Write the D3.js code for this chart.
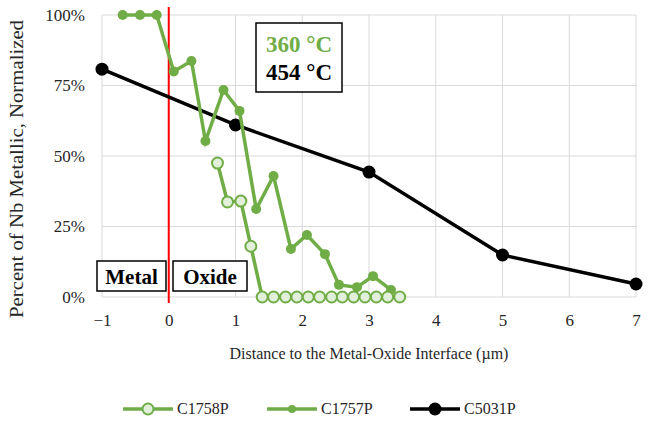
<!DOCTYPE html>
<html>
<head>
<meta charset="utf-8">
<script src="https://cdn.jsdelivr.net/npm/d3@7"></script>
<style>
  body { margin: 0; background: #fff; }
  svg text { font-family: "Liberation Serif", "Times New Roman", serif !important; }
</style>
</head>
<body>
<div id="chart"></div>
<script>
const WIDTH = 650;
const HEIGHT = 428;
const FONT = "Liberation Serif";
const GREEN = "#70ad47";
const LIGHT_GREEN = "#e2efda";
const BLACK = "#000";
const GRID = "#d9d9d9";
const TEXT = "#262626";

// C1758P (hollow markers)
const c1758x = [0.73, 0.88, 1.08, 1.23, 1.40, 1.57, 1.75, 1.92, 2.09, 2.26, 2.44, 2.60, 2.77, 2.94, 3.11, 3.28, 3.46];
const c1758y = [0.475, 0.337, 0.34, 0.18, 0, 0, 0, 0, 0, 0, 0, 0, 0, 0, 0, 0, 0];
// C1757P (small filled markers)
const c1757x = [-0.69, -0.43, -0.18, 0.075, 0.34, 0.55, 0.82, 1.06, 1.31, 1.57, 1.83, 2.07, 2.34, 2.55, 2.82, 3.06, 3.33];
const c1757y = [1.0, 1.0, 1.0, 0.80, 0.837, 0.553, 0.734, 0.66, 0.312, 0.429, 0.17, 0.22, 0.152, 0.043, 0.035, 0.074, 0.025];
// C5031P (large black markers)
const c5031x = [-1, 1, 3, 5, 7];
const c5031y = [0.808, 0.61, 0.443, 0.149, 0.046];

const xTicks = [-1, 0, 1, 2, 3, 4, 5, 6, 7];
const yTicks = [0, 0.25, 0.5, 0.75, 1];

const svg = d3.select("#chart").append("svg")
    .attr("width", WIDTH)
    .attr("height", HEIGHT)
    .attr("font-family", FONT);

const x = d3.scaleLinear().domain([-1, 7]).range([102, 636]);
const y = d3.scaleLinear().domain([0, 1]).range([297, 15]);

// Gridlines
svg.append("g").selectAll("line.h")
    .data(yTicks).enter().append("line")
    .attr("x1", x(-1)).attr("x2", x(7))
    .attr("y1", d => y(d)).attr("y2", d => y(d))
    .attr("stroke", GRID).attr("stroke-width", 1);
svg.append("g").selectAll("line.v")
    .data(xTicks).enter().append("line")
    .attr("x1", d => x(d)).attr("x2", d => x(d))
    .attr("y1", y(1)).attr("y2", y(0))
    .attr("stroke", GRID).attr("stroke-width", 1);

// Axes (labels only)
const xAxis = svg.append("g")
    .attr("transform", "translate(0," + y(0) + ")")
    .call(d3.axisBottom(x).tickValues(xTicks).tickSize(0).tickPadding(17).tickFormat(d3.format("d")));
xAxis.attr("font-family", FONT).attr("font-size", 17);
xAxis.select(".domain").remove();
xAxis.selectAll("text").attr("fill", TEXT);

const yAxis = svg.append("g")
    .attr("transform", "translate(" + x(-1) + ",0)")
    .call(d3.axisLeft(y).tickValues(yTicks).tickSize(0).tickPadding(17).tickFormat(d3.format(".0%")));
yAxis.attr("font-family", FONT).attr("font-size", 17);
yAxis.select(".domain").remove();
yAxis.selectAll("text").attr("fill", TEXT);

// Axis titles
svg.append("text")
    .attr("x", x(3)).attr("y", 359)
    .attr("text-anchor", "middle")
    .attr("font-size", 16).attr("fill", TEXT)
    .text("Distance to the Metal-Oxide Interface (µm)");
svg.append("text")
    .attr("transform", "translate(23,169) rotate(-90)")
    .attr("text-anchor", "middle")
    .attr("font-size", 18).attr("fill", TEXT)
    .attr("textLength", 298).attr("lengthAdjust", "spacingAndGlyphs")
    .text("Percent of Nb Metallic, Normalized");

// Interface line
svg.append("line")
    .attr("x1", x(0)).attr("x2", x(0))
    .attr("y1", 7).attr("y2", 303)
    .attr("stroke", "#ff0000").attr("stroke-width", 2);

// Metal / Oxide labels
function labelBox(x0, x1, label) {
    svg.append("rect")
        .attr("x", x0).attr("y", 261)
        .attr("width", x1 - x0).attr("height", 30)
        .attr("fill", "#fff").attr("stroke", BLACK).attr("stroke-width", 1.5);
    svg.append("text")
        .attr("x", (x0 + x1) / 2).attr("y", 284)
        .attr("text-anchor", "middle")
        .attr("font-size", 21).attr("font-weight", "bold")
        .text(label);
}
labelBox(97, 166, "Metal");
labelBox(173, 247, "Oxide");

const line = d3.line().x(d => x(d[0])).y(d => y(d[1]));

// C5031P
const d5031 = c5031x.map((v, i) => [v, c5031y[i]]);
svg.append("path").datum(d5031)
    .attr("d", line).attr("fill", "none")
    .attr("stroke", BLACK).attr("stroke-width", 3.5);
svg.append("g").selectAll("circle")
    .data(d5031).enter().append("circle")
    .attr("cx", d => x(d[0])).attr("cy", d => y(d[1]))
    .attr("r", 6.5).attr("fill", BLACK);

// C1757P
const d1757 = c1757x.map((v, i) => [v, c1757y[i]]);
svg.append("path").datum(d1757)
    .attr("d", line).attr("fill", "none")
    .attr("stroke", GREEN).attr("stroke-width", 3.5);
svg.append("g").selectAll("circle")
    .data(d1757).enter().append("circle")
    .attr("cx", d => x(d[0])).attr("cy", d => y(d[1]))
    .attr("r", 5).attr("fill", GREEN);

// C1758P
const d1758 = c1758x.map((v, i) => [v, c1758y[i]]);
svg.append("path").datum(d1758)
    .attr("d", line).attr("fill", "none")
    .attr("stroke", GREEN).attr("stroke-width", 3.5);
svg.append("g").selectAll("circle")
    .data(d1758).enter().append("circle")
    .attr("cx", d => x(d[0])).attr("cy", d => y(d[1]))
    .attr("r", 5.5).attr("fill", LIGHT_GREEN)
    .attr("stroke", GREEN).attr("stroke-width", 2);

// Temperature box
svg.append("rect")
    .attr("x", 256).attr("y", 23).attr("width", 86).attr("height", 69)
    .attr("fill", "#fff").attr("stroke", BLACK).attr("stroke-width", 1.5);
svg.append("text")
    .attr("x", 299).attr("y", 52).attr("text-anchor", "middle")
    .attr("font-size", 23).attr("font-weight", "bold").attr("fill", GREEN)
    .text("360 °C");
svg.append("text")
    .attr("x", 299).attr("y", 80).attr("text-anchor", "middle")
    .attr("font-size", 23).attr("font-weight", "bold").attr("fill", BLACK)
    .text("454 °C");

// Legend
const legend = [
    {name: "C1758P", color: GREEN, x: 123, r: 5.5, fill: LIGHT_GREEN, stroke: GREEN},
    {name: "C1757P", color: GREEN, x: 267, r: 4, fill: GREEN, stroke: "none"},
    {name: "C5031P", color: BLACK, x: 410, r: 6.5, fill: BLACK, stroke: "none"}
];
const lg = svg.append("g").selectAll("g")
    .data(legend).enter().append("g")
    .attr("transform", d => "translate(" + d.x + ",409)");
lg.append("line")
    .attr("x1", 0).attr("x2", 50).attr("y1", 0).attr("y2", 0)
    .attr("stroke", d => d.color).attr("stroke-width", 3.5);
lg.append("circle")
    .attr("cx", 25).attr("cy", 0).attr("r", d => d.r)
    .attr("fill", d => d.fill).attr("stroke", d => d.stroke).attr("stroke-width", 2);
lg.append("text")
    .attr("x", 54).attr("y", 5)
    .attr("font-size", 16).attr("fill", TEXT)
    .text(d => d.name);
</script>
</body>
</html>
